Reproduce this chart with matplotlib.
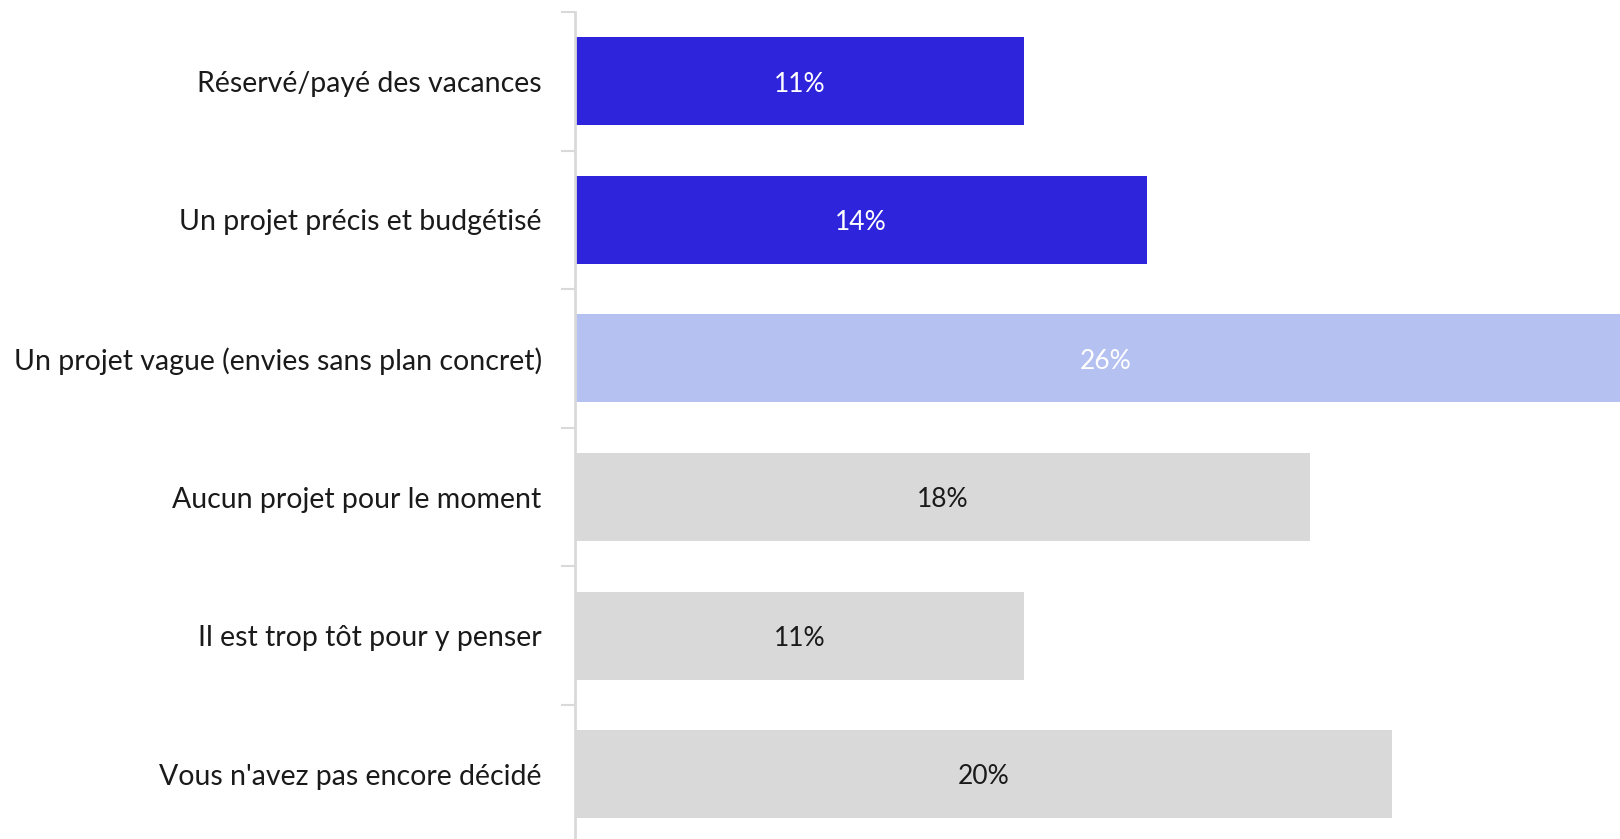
import matplotlib
matplotlib.use("Agg")
import matplotlib.pyplot as plt
from matplotlib.ticker import FixedLocator, NullLocator

categories = [
    "Réservé/payé des vacances",
    "Un projet précis et budgétisé",
    "Un projet vague (envies sans plan concret)",
    "Aucun projet pour le moment",
    "Il est trop tôt pour y penser",
    "Vous n'avez pas encore décidé",
]
values = [11, 14, 26, 18, 11, 20]
bar_colors = ["#2E24DC", "#2E24DC", "#B5C1F1", "#D9D9D9", "#D9D9D9", "#D9D9D9"]
label_colors = ["white", "white", "white", "#1a1a1a", "#1a1a1a", "#1a1a1a"]

W, H = 1620, 839
fig = plt.figure(figsize=(W / 100, H / 100), dpi=100)
left = 575.0 / W
top = 12.0 / H
ax = fig.add_axes([left, 0.0, 1.0 - left, 1.0 - top])

font = ["Lato", "DejaVu Sans"]
y = list(range(len(categories)))
ax.barh(y, values, height=0.635, color=bar_colors, left=0)
for yi, v, c in zip(y, values, label_colors):
    ax.text(v / 2, yi + 0.02, f"{v}%", ha="center", va="center", color=c,
            fontsize=19, family=font)

px_per_unit = 40.85
ax.set_xlim(0, (W - 575.0) / px_per_unit)
ax.set_ylim(5 + (839 - 774.2) / 138.6, -0.5)

ax.xaxis.set_major_locator(NullLocator())
ax.yaxis.set_major_locator(FixedLocator(y))
ax.set_yticklabels(categories, family=font, fontsize=20.5, color="#1a1a1a")
ax.yaxis.set_minor_locator(FixedLocator([i - 0.5 for i in range(len(categories))]))
ax.tick_params(axis="y", which="major", length=0, pad=24)
ax.tick_params(axis="y", which="minor", length=10, width=1.5, color="#D9D9D9")

for s in ["top", "right", "bottom"]:
    ax.spines[s].set_visible(False)
ax.spines["left"].set_color("#D9D9D9")
ax.spines["left"].set_linewidth(2)

fig.savefig("out.png", dpi=100)
